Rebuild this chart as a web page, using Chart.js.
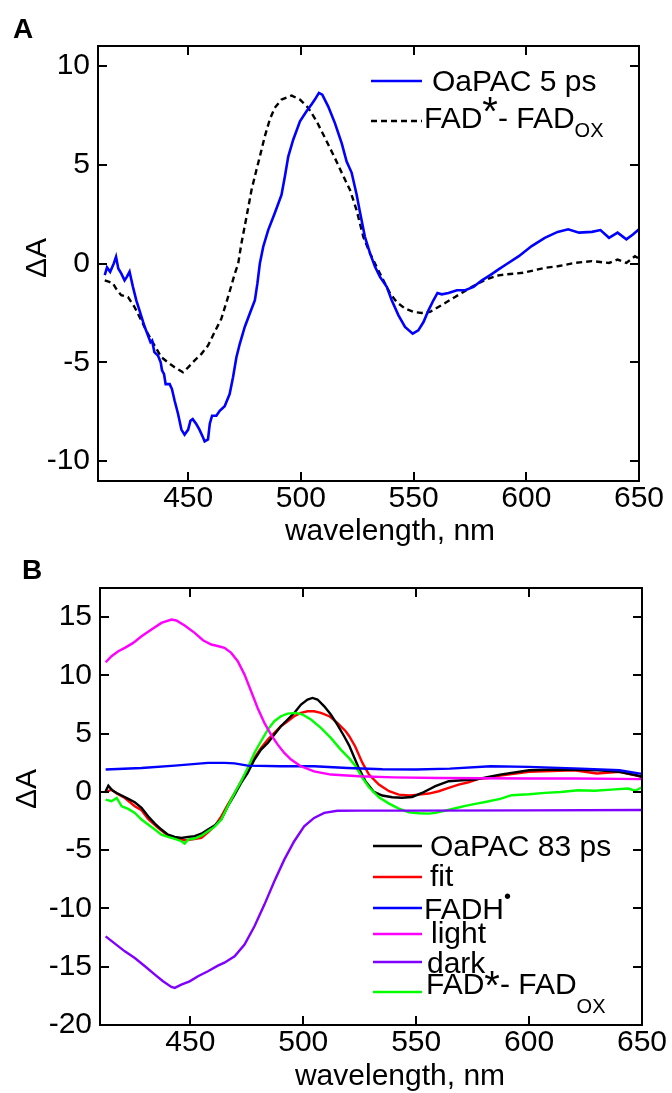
<!DOCTYPE html>
<html><head><meta charset="utf-8">
<script src="https://cdn.jsdelivr.net/npm/chart.js@4/dist/chart.umd.min.js"></script>
<style>
html,body{margin:0;padding:0;background:#fff;width:672px;height:1093px;overflow:hidden;}
canvas{position:absolute;left:0;}
#ca{top:0;} #cb{top:548px;}
</style></head><body>
<canvas id="ca" width="672" height="548"></canvas>
<canvas id="cb" width="672" height="545"></canvas>
<script>
const FONT = "'Liberation Sans', Arial, Helvetica, sans-serif";

// ---------- Panel A data ----------
const xTicks = [450, 500, 550, 600, 650];
const aYTicks = [-10, -5, 0, 5, 10];
const aOaPAC5Wl = [413,414,415.4,417,418,419,420.3,421.8,422.8,424,
  425.5,427,428.4,430.7,432.4,433.3,434,435,436.6,437.8,
  438.4,439.3,440,441.8,442.8,444,445.5,447,448.4,450,
  451,452,453.6,455,456.6,457.3,458.8,459.6,460.6,462.5,
  464,466.2,468.4,469.9,471.4,472.9,475.1,477.3,479.6,480.7,
  481.8,483.3,485.5,488.4,491.4,492.9,494.4,496.6,499.6,502.5,
  504.7,506.2,508,509.5,512.1,515.1,518.1,520.3,522.5,524.7,
  526.2,528.4,530.7,532.9,535.1,538.1,540.3,543.3,546.2,549.6,
  552.1,554.4,556.6,558.8,560.6,562.5,565.5,569.2,572.9,576.6,
  580.3,584,587.7,591,596.7,602.4,608.2,613.9,618.6,623.4,
  629.1,632.9,636.7,640.5,644.4,647.3,650];
const aOaPAC5 = [-0.59,-0.2,-0.42,0.0,0.34,-0.25,-0.5,-0.85,-0.68,-0.42,
  -1.18,-1.86,-2.37,-3.2,-3.7,-3.98,-3.9,-4.48,-4.65,-5.0,
  -5.4,-5.6,-6.1,-6.1,-6.35,-6.94,-7.6,-8.4,-8.66,-8.4,
  -7.95,-7.87,-8.12,-8.4,-8.8,-9.0,-8.9,-8.1,-7.7,-7.7,
  -7.45,-7.22,-6.6,-5.75,-4.74,-4.06,-3.21,-2.54,-1.86,-1.02,
  0,0.85,1.69,2.54,3.47,4.4,5.41,6.26,7.19,7.7,
  8.04,8.29,8.63,8.54,7.95,7.1,6.09,5.16,4.6,3.5,
  2.6,1.35,0.51,-0.17,-0.68,-1.18,-1.86,-2.62,-3.21,-3.55,
  -3.38,-2.96,-2.37,-1.86,-1.49,-1.56,-1.49,-1.35,-1.35,-1.18,
  -0.85,-0.59,-0.3,-0.05,0.37,0.88,1.3,1.6,1.73,1.56,
  1.6,1.69,1.3,1.56,1.22,1.47,1.73];
const aFadWl = [413,415,416.6,418,420.3,423.3,426.2,429.2,432.1,435.1,
  438.1,441,444,447.7,450,452.9,455.9,458.8,461.8,464.7,
  467.7,470.7,472.2,473.6,475.9,478.1,480.3,481.8,484,486.2,
  488.4,491.4,495.9,499.6,503.3,507,510.7,515.1,519.6,521.8,
  524.7,527.7,530.7,533.6,536.6,539.6,542.5,546.2,550,553.6,
  557.3,561,564.7,568.4,572.1,575.9,579.6,583.3,587.7,591,
  598.6,608.2,613.9,621.5,629.1,636.7,640.5,644.4,648.2,650];
const aFad = [-0.85,-0.93,-1.0,-1.27,-1.6,-1.7,-2.2,-2.88,-3.55,-4.15,
  -4.74,-5.0,-5.25,-5.5,-5.25,-4.9,-4.57,-4.15,-3.45,-2.8,
  -1.69,-0.51,0.0,1.0,2.37,3.72,4.74,5.41,6.43,7.28,
  7.87,8.29,8.49,8.29,7.87,7.19,6.35,5.33,4.23,3.72,
  2.7,1.35,0.51,-0.17,-0.85,-1.52,-1.95,-2.28,-2.45,-2.5,
  -2.45,-2.2,-1.95,-1.69,-1.44,-1.18,-0.95,-0.76,-0.6,-0.55,
  -0.47,-0.22,-0.14,0.03,0.12,0.03,0.2,0.03,0.37,0.25];

// ---------- Panel B data ----------
const bYTicks = [-20, -15, -10, -5, 0, 5, 10, 15];
const bOaWl = [412.5,413.7,415.4,417.4,419.6,422.5,425.4,428.4,431.3,434.3,
  437.2,440.1,443.1,446,449,451.9,454.9,457.8,460.7,463.7,
  466.6,469.6,472.5,475.4,478.4,481.3,484.3,487.2,490.1,493.1,
  496,499,501.9,504.1,506.3,509.3,512.2,515.1,518.1,520.3,
  522.5,524.7,527.6,531.3,535,539.4,543.8,548.2,552.6,558.5,
  564.4,570.3,576.2,582,587.2,600,611.6,620,630.6,640,
  647.6,650];
const bOa = [0.06,0.54,0.14,-0.09,-0.31,-0.6,-0.89,-1.37,-2.09,-2.72,
  -3.23,-3.66,-3.86,-3.95,-3.86,-3.8,-3.58,-3.23,-2.89,-2.37,
  -1.23,-0.23,0.77,1.63,2.78,3.63,4.21,4.92,5.64,6.21,
  6.78,7.5,7.93,8.07,7.93,7.35,6.64,5.78,4.78,4.0,
  3.0,2.0,0.9,0.0,-0.31,-0.46,-0.5,-0.43,-0.09,0.49,
  0.92,1.0,1.06,1.29,1.49,1.86,1.92,1.9,1.86,1.72,
  1.43,1.3];
const bFitWl = [412.5,415.1,417.4,421,425.4,428.4,431.3,435.7,440.1,444.6,
  447.5,450.4,454.9,457.8,460.7,463.7,466.6,469.6,472.5,475.4,
  478.4,481.3,484.3,487.2,490.1,493.1,496,499,501.9,504.8,
  507.8,511.5,515.1,518.8,520.3,523,526.2,529.1,533.5,538,
  542.3,546.8,551.2,555.6,560,564.4,568.8,573.2,577.6,582,
  587.2,600,610,620,630,640,645,650];
const bFit = [-0.03,0.2,-0.14,-0.52,-1.23,-1.57,-2.32,-3.09,-3.75,-4.03,
  -4.15,-4.09,-3.95,-3.46,-2.95,-2.1,-1.09,-0.09,0.92,1.92,
  2.92,3.78,4.49,5.06,5.64,6.07,6.5,6.78,6.92,6.92,
  6.78,6.5,5.92,5.21,4.8,3.9,2.49,1.49,0.63,0.06,
  -0.23,-0.31,-0.23,-0.14,0.06,0.34,0.63,0.83,1.12,1.2,
  1.4,1.72,1.8,1.86,1.58,1.72,1.5,1.29];
const bFadhWl = [412.5,428.4,443.1,457.8,465.1,469.6,475.4,490.1,504.8,519.6,535,550,565,583,600,623,640,650];
const bFadh = [1.92,2.06,2.26,2.49,2.49,2.45,2.26,2.2,2.2,2.06,1.95,1.92,2.0,2.2,2.15,2.0,1.86,1.55];
const bLightWl = [412.5,415.1,418.1,421,424.7,428.4,432.8,437.2,441.6,443.8,
  447.5,451.9,455.6,459.3,462.5,465.1,468.1,471,474,476.9,
  479.8,482.8,485.7,488.7,491.6,494.6,498.9,504.8,512.2,524.7,
  540,560,580,600,620,640,650];
const bLight = [11.13,11.65,12.07,12.36,12.79,13.36,13.93,14.5,14.79,14.71,
  14.28,13.65,13.02,12.65,12.5,12.36,11.93,11.22,10.07,8.64,
  7.21,5.92,4.92,4.06,3.35,2.78,2.2,1.77,1.49,1.35,
  1.25,1.2,1.18,1.15,1.15,1.12,1.1];
const bDarkWl = [412.5,416.6,421,425.4,429.9,434.3,437.9,441.6,443.1,446,
  449.7,453.4,457.8,462.2,465.1,469.6,474,478.4,482.8,487.2,
  491.6,496,500.4,504.8,509.3,515.1,524.7,550,600,650];
const bDark = [-12.39,-13.02,-13.68,-14.25,-14.96,-15.68,-16.25,-16.74,-16.82,-16.54,
  -16.25,-15.82,-15.39,-14.91,-14.65,-14.1,-13.1,-11.53,-9.67,-7.67,
  -5.81,-4.23,-2.95,-2.23,-1.8,-1.62,-1.6,-1.6,-1.58,-1.55];
const bFadWl = [412.5,415.1,417.4,419.6,422.5,425.4,428.4,431.3,434.3,437.2,
  440.1,443.1,446,447.5,449,451.9,454.9,457.8,460.7,463.7,
  466.6,469.6,472.5,475.4,478.4,481.3,484.3,487.2,490.1,493.1,
  496.8,499.7,503.4,507.8,512.2,516.6,520.3,523.2,526.2,529.1,
  533.5,538,542.3,546.8,551.2,555.6,558.5,563,567.4,571.8,
  576.2,580.6,587.2,592.3,600,607,614,621.7,629,636.4,
  643.8,647,650];
const bFad = [-0.66,-0.8,-0.52,-1.23,-1.46,-1.8,-2.37,-2.8,-3.23,-3.66,
  -3.86,-4.03,-4.23,-4.43,-4.09,-4.0,-3.75,-3.38,-3.0,-2.37,
  -1.23,-0.09,0.92,2.06,3.35,4.35,5.35,6.07,6.5,6.72,
  6.78,6.64,6.21,5.49,4.64,3.63,2.9,2.2,1.2,0.4,
  -0.46,-1.0,-1.43,-1.75,-1.83,-1.86,-1.8,-1.6,-1.4,-1.2,
  -1.03,-0.86,-0.6,-0.28,-0.2,-0.08,0.0,0.15,0.1,0.2,
  0.29,0.1,0.4];

function pts(xs, ys) { return xs.map((x, i) => ({ x: x, y: ys[i] })); }

function drawRich(ctx, x, y, parts) {
  let cx = x;
  parts.forEach(p => {
    ctx.font = (p.bold ? 'bold ' : '') + (p.size || 30) + 'px ' + FONT;
    ctx.fillText(p.t, cx, y + (p.dy || 0));
    cx += ctx.measureText(p.t).width + (p.gap || 0);
  });
}

const deco = {
  id: 'deco',
  afterDraw(chart, args, o) {
    const ctx = chart.ctx, a = chart.chartArea, xs = chart.scales.x, ys = chart.scales.y;
    ctx.save();
    ctx.strokeStyle = '#000';
    ctx.lineWidth = 2;
    ctx.strokeRect(a.left, a.top, a.right - a.left, a.bottom - a.top);
    const L = 9;
    ctx.beginPath();
    xs.ticks.forEach(t => {
      const px = Math.round(xs.getPixelForValue(t.value));
      ctx.moveTo(px, a.bottom); ctx.lineTo(px, a.bottom - L);
      ctx.moveTo(px, a.top); ctx.lineTo(px, a.top + L);
    });
    ys.ticks.forEach(t => {
      const py = Math.round(ys.getPixelForValue(t.value));
      ctx.moveTo(a.left, py); ctx.lineTo(a.left + L, py);
      ctx.moveTo(a.right, py); ctx.lineTo(a.right - L, py);
    });
    ctx.stroke();

    ctx.fillStyle = '#000';
    ctx.textBaseline = 'alphabetic';
    ctx.textAlign = 'left';
    ctx.font = 'bold 28px ' + FONT;
    ctx.fillText(o.letter.t, o.letter.x, o.letter.y);
    ctx.font = '30px ' + FONT;
    ctx.textAlign = 'center';
    ctx.fillText('wavelength, nm', o.xTitle.x, o.xTitle.y);
    ctx.save();
    ctx.translate(o.yTitle.x, o.yTitle.y);
    ctx.rotate(-Math.PI / 2);
    ctx.textBaseline = 'middle';
    ctx.fillText('\u0394A', 0, 0);
    ctx.restore();
    ctx.textAlign = 'left';
    ctx.textBaseline = 'alphabetic';
    o.legend.forEach(it => {
      const ds = chart.data.datasets[it.ds];
      ctx.save();
      ctx.strokeStyle = ds.borderColor;
      ctx.lineWidth = 2.4;
      ctx.setLineDash(ds.borderDash || []);
      ctx.beginPath();
      ctx.moveTo(o.lx0, it.ly); ctx.lineTo(o.lx1, it.ly);
      ctx.stroke();
      ctx.restore();
      ctx.fillStyle = '#000';
      drawRich(ctx, it.tx, it.ty, it.parts);
    });
    ctx.restore();
  }
};

function makeChart(id, datasets, ymin, ymax, yTicks, area, canvasH, decoOpts) {
  return new Chart(document.getElementById(id), {
    type: 'line',
    data: { datasets: datasets },
    options: {
      responsive: false, animation: false, devicePixelRatio: 1,
      layout: { padding: { left: 0, top: area.top, right: 672 - area.right, bottom: 0 } },
      elements: { point: { radius: 0 }, line: { tension: 0, borderWidth: 2.4 } },
      plugins: { legend: { display: false }, tooltip: { enabled: false }, deco: decoOpts },
      scales: {
        x: {
          type: 'linear', min: 410, max: 650,
          afterBuildTicks: s => { s.ticks = xTicks.map(v => ({ value: v })); },
          afterFit: s => { s.height = canvasH - area.bottom; },
          grid: { display: false, drawTicks: false }, border: { display: false },
          ticks: { color: '#000', font: { family: FONT, size: 30 }, padding: 0, maxRotation: 0, autoSkip: false }
        },
        y: {
          type: 'linear', min: ymin, max: ymax,
          afterBuildTicks: s => { s.ticks = yTicks.map(v => ({ value: v })); },
          afterFit: s => { s.width = area.left; },
          grid: { display: false, drawTicks: false }, border: { display: false },
          ticks: { color: '#000', font: { family: FONT, size: 30 }, padding: 8, autoSkip: false }
        }
      }
    },
    plugins: [deco]
  });
}

makeChart('ca', [
  { label: 'OaPAC 5 ps', data: pts(aOaPAC5Wl, aOaPAC5), borderColor: '#0000ff', borderWidth: 2.6 },
  { label: 'FAD*- FADox', data: pts(aFadWl, aFad), borderColor: '#000000', borderDash: [6, 4], borderWidth: 2.4 }
], -11, 11, aYTicks, { left: 98, top: 46, right: 639, bottom: 481 }, 548, {
  letter: { t: 'A', x: 13, y: 38 },
  xTitle: { x: 390, y: 540 },
  yTitle: { x: 38, y: 258 },
  lx0: 371, lx1: 422,
  legend: [
    { ds: 0, ly: 81, tx: 432, ty: 91, parts: [{ t: 'OaPAC 5 ps' }] },
    { ds: 1, ly: 121, tx: 424, ty: 128, parts: [{ t: 'FAD' }, { t: '*', size: 40, dy: -3 }, { t: '- FAD' }, { t: 'OX', size: 20, dy: 9 }] }
  ]
});

makeChart('cb', [
  { label: 'dark', data: pts(bDarkWl, bDark), borderColor: '#8000ff' },
  { label: 'light', data: pts(bLightWl, bLight), borderColor: '#ff00ff' },
  { label: 'FADH', data: pts(bFadhWl, bFadh), borderColor: '#0000ff' },
  { label: 'FAD*- FADox', data: pts(bFadWl, bFad), borderColor: '#00ff00' },
  { label: 'OaPAC 83 ps', data: pts(bOaWl, bOa), borderColor: '#000000' },
  { label: 'fit', data: pts(bFitWl, bFit), borderColor: '#ff0000' }
], -20, 17.5, bYTicks, { left: 100, top: 40, right: 642, bottom: 477 }, 545, {
  letter: { t: 'B', x: 22, y: 31 },
  xTitle: { x: 400, y: 537 },
  yTitle: { x: 28, y: 241 },
  lx0: 373, lx1: 422,
  legend: [
    { ds: 4, ly: 298, tx: 430, ty: 308, parts: [{ t: 'OaPAC 83 ps' }] },
    { ds: 5, ly: 329, tx: 430, ty: 338, parts: [{ t: 'fit' }] },
    { ds: 2, ly: 360, tx: 424, ty: 371, parts: [{ t: 'FADH' }, { t: '\u2022', size: 20, dy: -16 }] },
    { ds: 1, ly: 386, tx: 431, ty: 395, parts: [{ t: 'light' }] },
    { ds: 0, ly: 414, tx: 427, ty: 425, parts: [{ t: 'dark' }] },
    { ds: 3, ly: 444, tx: 426, ty: 446, parts: [{ t: 'FAD' }, { t: '*', size: 40, dy: 5 }, { t: '- FAD' }, { t: 'OX', size: 20, dy: 19 }] }
  ]
});
</script>
</body></html>
